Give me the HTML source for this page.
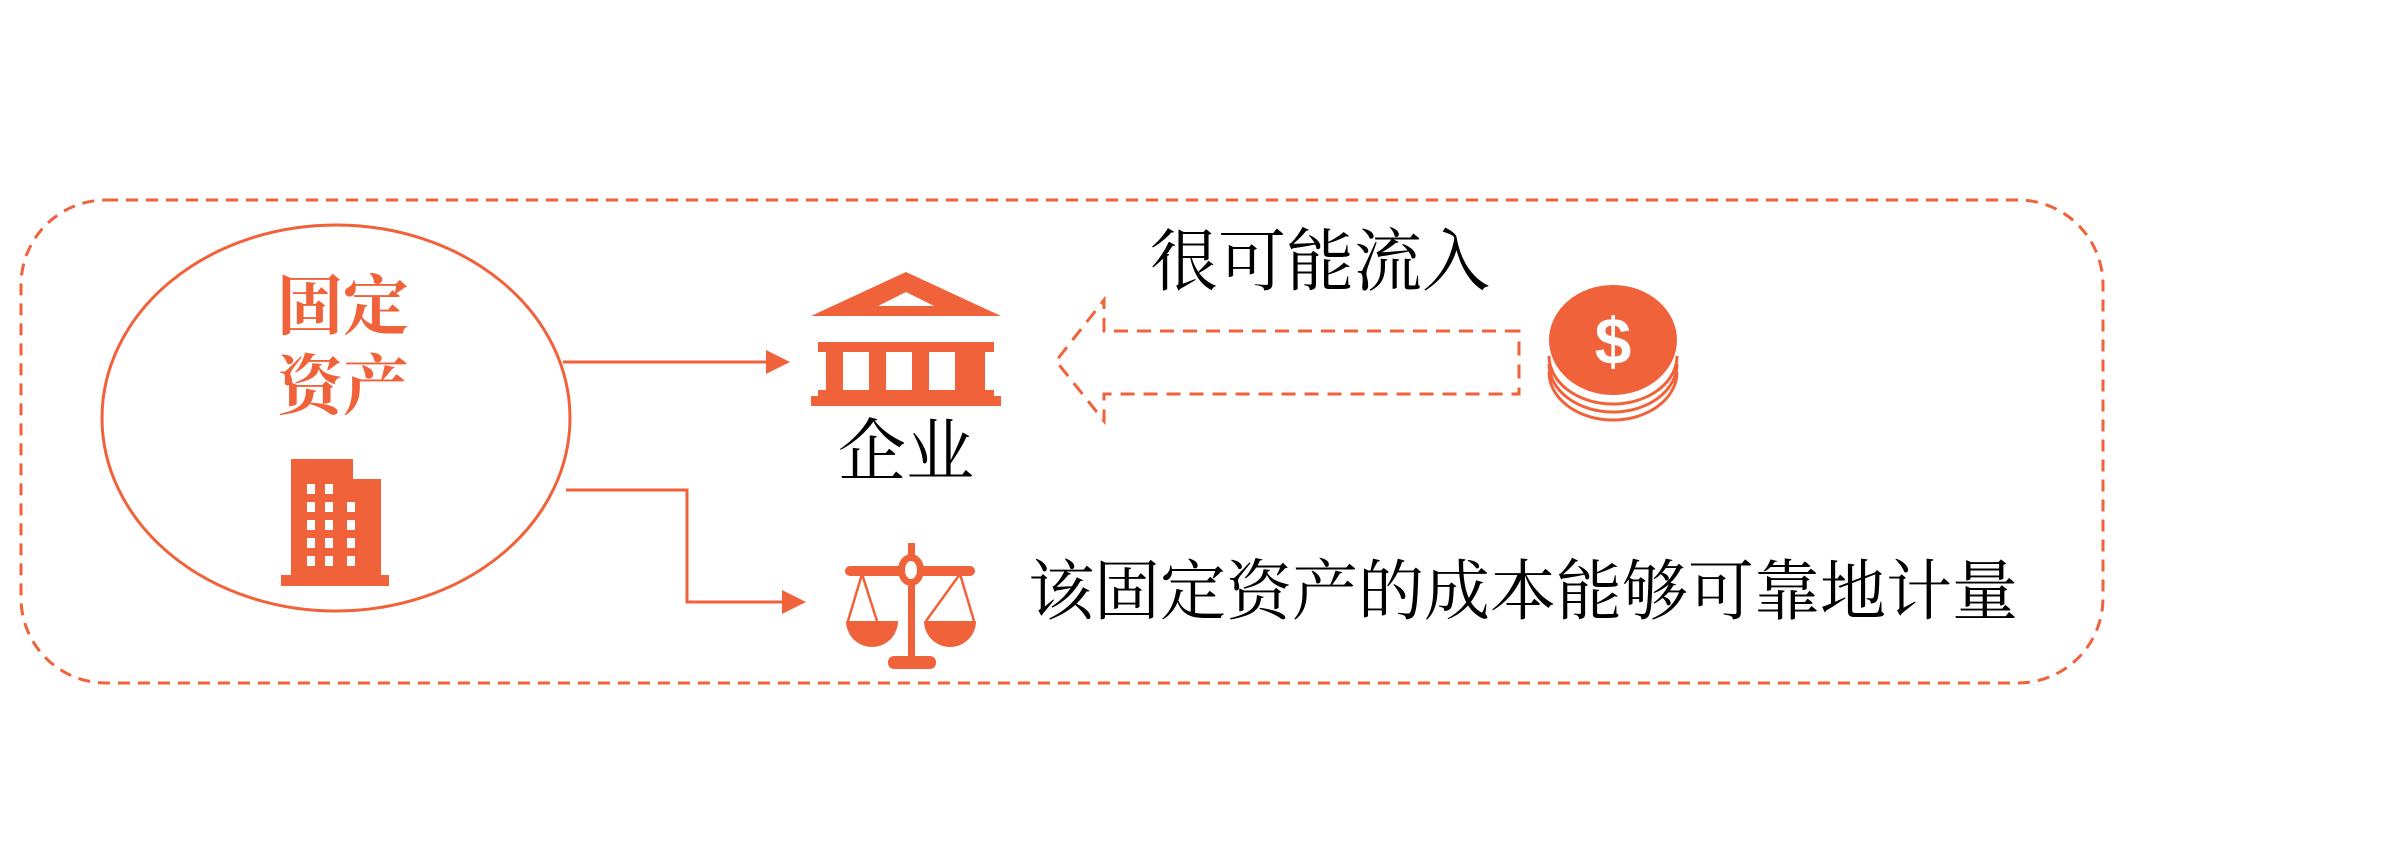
<!DOCTYPE html>
<html><head><meta charset="utf-8"><style>
html,body{margin:0;padding:0;background:#fff;}
body{width:2385px;height:852px;position:relative;overflow:hidden;}
.t{position:absolute;font-family:"Liberation Serif","Noto Serif CJK SC",serif;color:#000;white-space:nowrap;line-height:1;}
</style></head><body>
<svg width="2385" height="852" style="position:absolute;left:0;top:0">
<rect x="21" y="200" width="2082" height="483" rx="85" ry="85" fill="none" stroke="#f0623a" stroke-width="3" stroke-dasharray="12,8"/>
<ellipse cx="336" cy="418" rx="234" ry="193" fill="none" stroke="#f0623a" stroke-width="3"/>
<!-- building -->
<rect x="291" y="459" width="62" height="120" fill="#f0623a"/>
<rect x="353" y="479" width="28" height="100" fill="#f0623a"/>
<rect x="281" y="575" width="108" height="11" fill="#f0623a"/>
<g fill="#fff">
<rect x="307" y="484" width="8" height="10"/><rect x="325" y="484" width="8" height="10"/>
<rect x="307" y="502" width="8" height="10"/><rect x="325" y="502" width="8" height="10"/><rect x="347" y="502" width="8" height="10"/>
<rect x="307" y="520" width="8" height="10"/><rect x="325" y="520" width="8" height="10"/><rect x="347" y="520" width="8" height="10"/>
<rect x="307" y="538" width="8" height="10"/><rect x="325" y="538" width="8" height="10"/><rect x="347" y="538" width="8" height="10"/>
<rect x="307" y="556" width="8" height="10"/><rect x="325" y="556" width="8" height="10"/><rect x="347" y="556" width="8" height="10"/>
</g>
<!-- arrow 1 -->
<line x1="563" y1="362" x2="770" y2="362" stroke="#f0623a" stroke-width="3"/>
<polygon points="766,350 790,362 766,374" fill="#f0623a"/>
<!-- bank -->
<polygon points="906,272 1001,316 811,316" fill="#f0623a"/>
<polygon points="906,292 934,306 878,306" fill="#fff"/>
<rect x="818" y="342" width="176" height="10" fill="#f0623a"/>
<rect x="826" y="352" width="17" height="42" fill="#f0623a"/>
<rect x="869" y="352" width="17" height="42" fill="#f0623a"/>
<rect x="912" y="352" width="17" height="42" fill="#f0623a"/>
<rect x="955" y="352" width="17" height="42" fill="#f0623a"/>
<rect x="968" y="352" width="17" height="42" fill="#f0623a"/>
<rect x="818" y="390" width="176" height="6" fill="#f0623a"/>
<rect x="811" y="396" width="190" height="10" fill="#f0623a"/>
<!-- dashed arrow -->
<path d="M1519,331 L1104,331 L1104,300 L1056,361 L1104,421 L1104,394 L1519,394 Z" fill="none" stroke="#f0623a" stroke-width="3" stroke-dasharray="14,9"/>
<!-- coins -->
<g fill="none" stroke="#f0623a" stroke-width="3">
<path d="M1549,356 A64,48 0 0 0 1677,356"/>
<path d="M1549,364 A64,48 0 0 0 1677,364"/>
<path d="M1549,372 A64,48 0 0 0 1677,372"/>
</g>
<ellipse cx="1613" cy="340" rx="64" ry="55" fill="#f0623a"/>
<text x="1613" y="364" text-anchor="middle" font-family="Liberation Sans,sans-serif" font-weight="bold" font-size="66" fill="#fff">$</text>
<!-- arrow 2 -->
<polyline points="566,490 687,490 687,602 785,602" fill="none" stroke="#f0623a" stroke-width="3"/>
<polygon points="782,590 806,602 782,614" fill="#f0623a"/>
<!-- scale -->
<g fill="#f0623a">
<rect x="908" y="543" width="7" height="122"/>
<rect x="845" y="566" width="130" height="10" rx="5"/>
<ellipse cx="911" cy="570" rx="13" ry="16"/>
<rect x="888" y="656" width="48" height="13" rx="6"/>
<path d="M846,621 A26,26 0 0 0 898,621 Z"/>
<path d="M924,621 A26,26 0 0 0 976,621 Z"/>
</g>
<g fill="none" stroke="#f0623a" stroke-width="2.5"><path d="M848,621 L862,574 L877,621"/><path d="M926,621 L960,574 L974,621"/></g>
<ellipse cx="911" cy="570" rx="6" ry="9" fill="#fff"/>
</svg>
<div class="t" style="left:277px;top:275px;font-size:66px;color:#f0623a;font-weight:bold;">固定</div>
<div class="t" style="left:277px;top:355px;font-size:66px;color:#f0623a;font-weight:bold;">资产</div>
<div class="t" style="left:838px;top:418px;font-size:68px;">企业</div>
<div class="t" style="left:1150px;top:228px;font-size:68px;">很可能流入</div>
<div class="t" style="left:1028px;top:560px;font-size:66px;">该固定资产的成本能够可靠地计量</div>
</body></html>
